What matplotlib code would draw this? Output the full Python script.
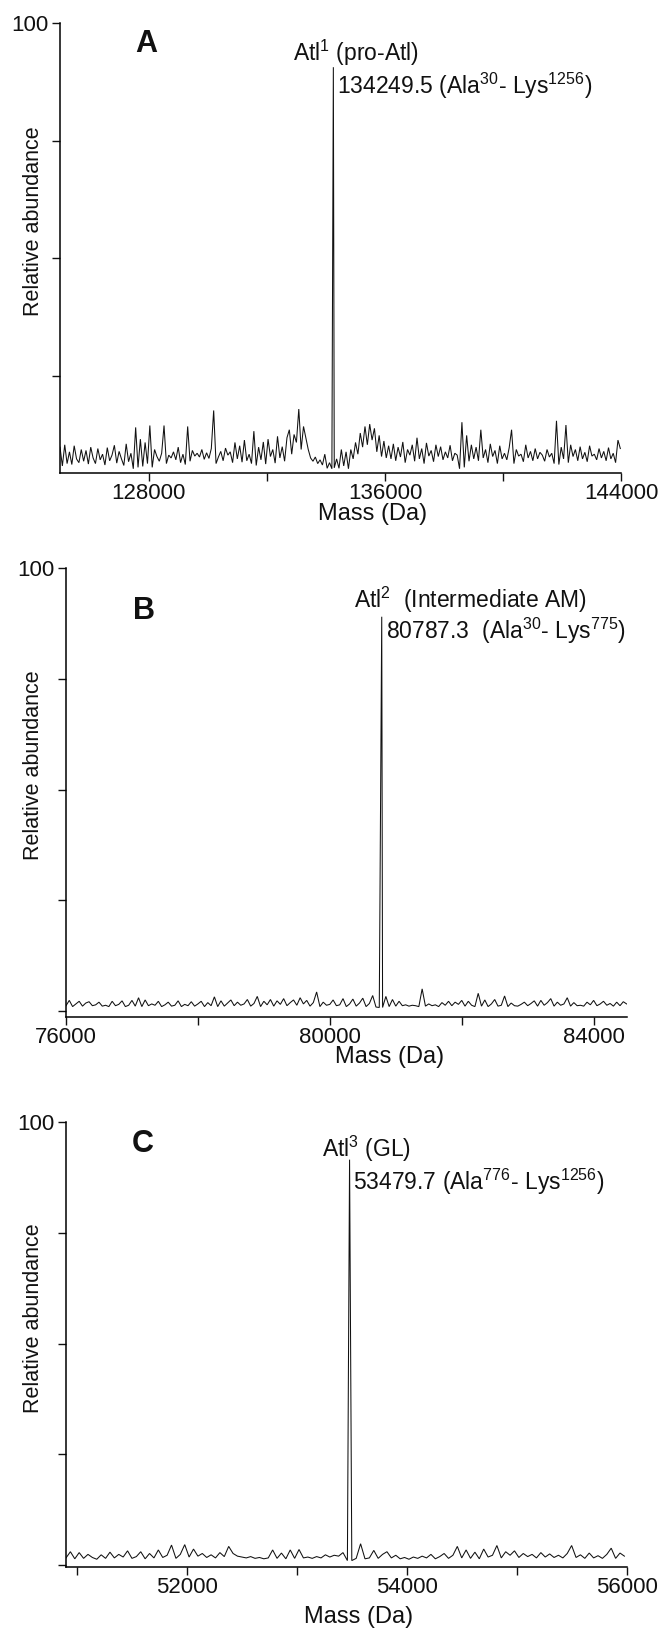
import numpy as np
import matplotlib
matplotlib.use("Agg")
import matplotlib.pyplot as plt

plt.rcParams["font.family"] = ["Liberation Sans", "DejaVu Sans"]
plt.rcParams["mathtext.fontset"] = "custom"
plt.rcParams["mathtext.rm"] = "Liberation Sans"
plt.rcParams["mathtext.it"] = "Liberation Sans:italic"
plt.rcParams["mathtext.bf"] = "Liberation Sans:bold"

# ---------------- Panel A: pro-Atl (Atl1) ----------------
a_start, a_step = 125000, 80
a_noise = [
    9.8, 5.8, 10.3, 6.3, 8.8, 6.1, 10.1, 7.3, 6.5, 9.3,
    6.8, 9.1, 6.2, 9.8, 7.5, 6.3, 9.5, 7.1, 8.3, 6.0,
    9.7, 6.9, 8.1, 10.2, 6.4, 8.9, 7.3, 5.9, 10.5, 6.7,
    8.5, 5.2, 14.0, 5.5, 11.5, 5.7, 10.8, 6.3, 14.4, 5.5,
    9.3, 7.8, 6.8, 8.5, 14.4, 6.3, 8.1, 7.5, 8.8, 7.1,
    9.8, 6.5, 8.3, 6.1, 14.2, 6.8, 9.1, 7.9, 8.5, 7.7,
    9.3, 7.2, 8.6, 7.4, 9.5, 17.6, 6.3, 7.7, 8.9, 6.9,
    9.6, 8.1, 8.8, 6.5, 10.8, 7.3, 10.1, 6.6, 11.3, 6.9,
    8.3, 6.3, 13.2, 5.9, 9.8, 7.1, 10.9, 6.2, 11.5, 7.8,
    9.3, 6.4, 12.1, 7.5, 9.9, 6.8, 11.8, 13.5, 8.3, 12.5,
    10.8, 17.9, 9.3, 14.2, 11.8, 9.3, 7.5, 6.8, 7.7, 6.3,
    7.1, 6.0, 8.3, 5.3, 6.5, 5.2, 5.4, 7.3, 5.3, 9.3,
    5.8, 8.8, 5.2, 9.3, 7.3, 10.8, 8.3, 12.8, 9.8, 14.2,
    10.3, 14.7, 11.3, 13.8, 8.8, 12.3, 7.8, 11.1, 7.5, 10.1,
    7.3, 10.5, 6.9, 9.8, 7.7, 10.9, 6.5, 9.3, 8.1, 10.3,
    6.8, 11.8, 7.3, 9.5, 6.3, 10.7, 7.9, 9.1, 6.7, 10.3,
    7.8, 9.9, 7.1, 8.8, 7.5, 10.2, 6.9, 8.5, 8.1, 5.2,
    15.1, 5.5, 12.3, 6.8, 10.3, 7.3, 9.8, 6.9, 13.5, 7.5,
    9.3, 6.5, 10.5, 7.8, 9.1, 6.3, 10.1, 7.3, 8.5, 7.1,
    9.7, 13.5, 6.3, 9.3, 7.9, 8.3, 6.7, 10.3, 7.5, 8.9,
    6.9, 9.5, 7.3, 8.7, 8.1, 6.8, 9.3, 7.7, 8.5, 6.3,
    15.4, 6.1, 9.8, 7.3, 14.5, 6.5, 10.3, 7.8, 9.3, 6.9,
    9.9, 7.3, 8.7, 6.7, 10.1, 7.9, 8.3, 7.1, 9.5, 7.5,
    8.9, 6.9, 9.7, 7.3, 8.5, 6.5, 11.3, 9.5,
]
a_apex_mass, a_apex_height = 134249.5, 90.6
a_xticks = [128000, 132000, 136000, 140000, 144000]
a_xlabels = ["128000", "", "136000", "", "144000"]

# ---------------- Panel B: intermediate AM (Atl2) ----------------
b_start, b_step = 76000, 50
b_noise = [
    1.2, 2.4, 1.0, 1.6, 2.2, 1.1, 1.8, 2.1, 1.2, 1.4,
    2.0, 1.1, 1.3, 1.0, 2.2, 1.2, 1.5, 2.3, 1.0, 1.3,
    2.4, 1.1, 3.0, 1.0, 2.5, 1.2, 1.6, 1.3, 2.2, 1.0,
    1.4, 2.0, 1.1, 1.3, 2.3, 1.0, 1.5, 1.2, 2.1, 1.1,
    1.6, 2.2, 1.0, 1.9, 1.2, 3.2, 1.0, 2.3, 1.1, 1.8,
    2.5, 1.2, 2.0, 1.3, 1.6, 2.6, 1.1, 1.7, 3.3, 1.0,
    2.2, 1.4, 2.6, 1.1, 2.3, 1.5, 2.8, 1.2, 1.9, 2.5,
    1.3, 3.0, 1.6, 2.4, 1.1, 1.9, 4.3, 1.0, 2.0, 1.3,
    1.5, 2.5, 1.2, 1.4, 2.8, 1.0, 1.6, 2.7, 1.1, 1.8,
    2.9, 1.0, 1.7, 3.5, 0.9, 0.8, 0.8, 3.3, 1.0, 2.6,
    1.1, 2.2, 1.2, 1.4, 1.1, 1.3, 1.2, 1.0, 5.0, 1.1,
    1.6, 1.2, 1.4, 1.0, 1.9, 1.3, 2.2, 1.2, 2.0, 1.5,
    2.4, 1.1, 2.2, 1.3, 1.0, 4.0, 1.1, 2.5, 1.0, 1.6,
    2.6, 1.1, 1.3, 3.4, 1.0, 1.8, 1.2, 1.1, 1.5, 2.0,
    1.2, 1.7, 2.3, 1.1, 2.4, 1.3, 1.9, 2.8, 1.1, 2.0,
    1.3, 1.6, 3.0, 1.1, 1.9, 1.2, 1.3, 1.1, 2.0, 1.4,
    2.4, 1.2, 1.6, 2.2, 1.3, 1.7, 1.1, 2.0, 1.2, 2.1,
    1.6,
]
b_apex_mass, b_apex_height = 80787.3, 89.0
b_xticks = [76000, 78000, 80000, 82000, 84000]
b_xlabels = ["76000", "", "80000", "", "84000"]

# ---------------- Panel C: GL (Atl3) ----------------
c_start, c_step = 50900, 40
c_noise = [
    1.6, 3.0, 1.4, 2.8, 1.5, 2.4, 1.7, 1.3, 2.3, 1.5,
    2.9, 1.6, 2.4, 1.8, 3.2, 1.5, 1.9, 3.0, 1.4, 2.6,
    1.6, 3.4, 1.7, 2.2, 4.5, 1.5, 2.4, 4.6, 1.8, 3.6,
    2.0, 2.6, 1.7, 2.3, 1.6, 2.8, 1.9, 4.2, 2.6, 2.0,
    1.8, 1.6, 1.9, 1.5, 1.7, 1.4, 1.6, 3.4, 1.5, 2.7,
    1.4, 3.4, 1.5, 3.5, 1.6, 1.8, 1.5, 1.9, 1.6, 2.3,
    1.8, 2.2, 2.0, 2.8, 1.0, 1.0, 1.5, 4.8, 1.4, 1.6,
    3.3, 1.5, 2.4, 3.0, 1.6, 2.2, 1.4, 1.7, 1.3, 1.8,
    1.5, 2.0, 1.6, 2.4, 1.4, 1.9, 2.6, 1.5, 2.2, 4.2,
    1.6, 3.4, 1.5, 2.9, 1.4, 3.6, 1.8, 2.2, 4.4, 1.6,
    3.0, 2.2, 3.2, 1.7, 2.6, 1.9, 2.4, 1.6, 2.8, 1.8,
    2.5, 1.7, 2.2, 1.6, 2.6, 4.4, 1.7, 2.3, 1.5, 2.7,
    1.6, 2.1, 1.5, 2.4, 3.8, 1.5, 2.7, 2.0,
]
c_apex_mass, c_apex_height = 53479.7, 91.5
c_xticks = [51000, 52000, 53000, 54000, 55000, 56000]
c_xlabels = ["", "52000", "", "54000", "", "56000"]

FS_TICK = 16
FS_XLABEL = 17
FS_YLABEL = 15.5
FS_NOTE = 16.5
FS_PANEL = 22

W, H = 665, 1632
fig = plt.figure(figsize=(W / 100, H / 100), dpi=100)


def px_axes(left, top, right, bottom):
    return fig.add_axes([left / W, 1 - bottom / H, (right - left) / W, (bottom - top) / H])


def spectrum(start, step, noise, apex_mass, apex_height):
    mass = start + step * np.arange(len(noise))
    m = np.append(mass, apex_mass)
    y = np.append(np.asarray(noise, dtype=float), apex_height)
    order = np.argsort(m)
    return m[order], y[order]


def panel(ax, start, step, noise, apex_mass, apex_height, xlim, ylim,
          xticks, xlabels, yticks, letter, letter_xy, name, name_xy, note, note_xy,
          xlabel_xy, ylabel_x):
    m, y = spectrum(start, step, noise, apex_mass, apex_height)
    ax.plot(m, y, color="#111111", lw=0.75, solid_joinstyle="miter")
    ax.set_xlim(*xlim)
    ax.set_ylim(*ylim)
    for s in ("top", "right"):
        ax.spines[s].set_visible(False)
    for s in ("left", "bottom"):
        ax.spines[s].set_linewidth(1.1)
    ax.set_xticks(xticks)
    ax.set_xticklabels(xlabels)
    ax.set_yticks(yticks)
    ax.set_yticklabels(["100" if t == 100 else "" for t in yticks])
    ax.tick_params(axis="both", direction="out", length=6, width=1.0,
                   labelsize=FS_TICK, colors="#111111")
    ax.tick_params(axis="x", pad=1.5)
    ax.tick_params(axis="y", pad=2.5)
    ax.set_ylabel("Relative abundance", fontsize=FS_YLABEL, color="#111111")
    ax.yaxis.set_label_coords(ylabel_x, 0.56)
    ax.yaxis.label.set_va("center")
    ax.set_xlabel("Mass (Da)", fontsize=FS_XLABEL, color="#111111")
    ax.xaxis.set_label_coords(*xlabel_xy)
    ax.xaxis.label.set_va("center")
    ax.text(*letter_xy, letter, fontsize=FS_PANEL, fontweight="bold",
            ha="center", va="center", color="#111111")
    ax.text(*name_xy, name, fontsize=FS_NOTE, ha="left", va="baseline", color="#111111")
    ax.text(*note_xy, note, fontsize=FS_NOTE, ha="left", va="baseline", color="#111111")


axA = px_axes(60, 23, 621.5, 473)
panel(axA, a_start, a_step, a_noise, a_apex_mass, a_apex_height,
      (125000, 144000), (4.3, 100), a_xticks, a_xlabels, [25, 50, 75, 100],
      "A", (127910, 95.5),
      r"Atl$^{1}$ (pro-Atl)", (132880, 91.9),
      f"{a_apex_mass:.1f}" + r" (Ala$^{30}$- Lys$^{1256}$)", (134380, 84.9),
      (0.557, -0.092), (34 - 60) / 561.5)

axB = px_axes(66, 568, 626.6, 1017)
panel(axB, b_start, b_step, b_noise, b_apex_mass, b_apex_height,
      (76000, 84500), (-1.35, 100), b_xticks, b_xlabels, [0, 25, 50, 75, 100],
      "B", (77180, 90.3),
      r"Atl$^{2}$  (Intermediate AM)", (80370, 91.0),
      f"{b_apex_mass:.1f}" + r"  (Ala$^{30}$- Lys$^{775}$)", (80845, 84.0),
      (0.578, -0.088), (34 - 66) / 560.6)

axC = px_axes(66, 1122, 626.6, 1567)
panel(axC, c_start, c_step, c_noise, c_apex_mass, c_apex_height,
      (50900, 56000), (-0.45, 100), c_xticks, c_xlabels, [0, 25, 50, 75, 100],
      "C", (51600, 95.0),
      r"Atl$^{3}$ (GL)", (53230, 92.2),
      f"{c_apex_mass:.1f}" + r" (Ala$^{776}$- Lys$^{1256}$)", (53515, 84.6),
      (0.521, -0.113), (34 - 66) / 560.6)

fig.savefig("out.png", dpi=100)
